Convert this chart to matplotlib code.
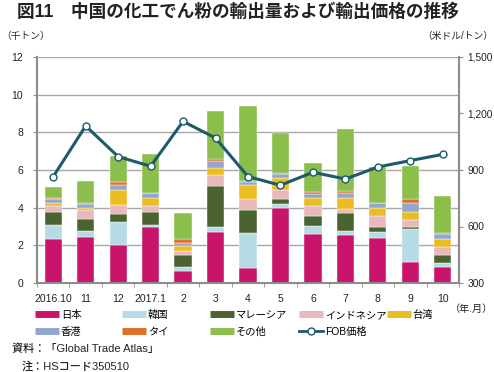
import numpy as np
import matplotlib
matplotlib.use('Agg')
import matplotlib.pyplot as plt
from matplotlib.lines import Line2D
from matplotlib.ticker import FuncFormatter, FixedLocator

plt.rcParams['font.family'] = ['Liberation Sans', 'Noto Sans CJK JP', 'DejaVu Sans']

# Data (thousand tons / USD per ton)
months = ['2016.10', '11', '12', '2017.1', '2', '3', '4', '5', '6', '7', '8', '9', '10']
japan = [2.34, 2.42, 2.02, 2.97, 0.65, 2.69, 0.81, 4.00, 2.60, 2.53, 2.41, 1.12, 0.87]
korea = [0.72, 0.32, 1.22, 0.13, 0.18, 0.28, 1.86, 0.18, 0.43, 0.25, 0.30, 1.76, 0.21]
malaysia = [0.69, 0.66, 0.44, 0.67, 0.64, 2.16, 1.21, 0.28, 0.51, 0.92, 0.28, 0.08, 0.39]
indonesia = [0.32, 0.46, 0.48, 0.34, 0.25, 0.60, 0.58, 0.50, 0.57, 0.21, 0.59, 0.40, 0.46]
taiwan = [0.18, 0.12, 0.76, 0.39, 0.23, 0.39, 0.74, 0.62, 0.42, 0.59, 0.42, 0.43, 0.42]
hongkong = [0.21, 0.23, 0.27, 0.26, 0.19, 0.38, 0.16, 0.21, 0.21, 0.26, 0.23, 0.46, 0.23]
thai = [0.05, 0.06, 0.17, 0.02, 0.20, 0.10, 0.06, 0.07, 0.07, 0.12, 0.04, 0.19, 0.09]
others = [0.57, 1.13, 1.38, 2.09, 1.38, 2.55, 4.00, 2.12, 1.58, 3.30, 1.87, 1.75, 1.97]
fob = [865, 1134, 971, 920, 1158, 1070, 865, 819, 888, 852, 916, 950, 983]

series = [
    ('日本', japan, '#C8156B'),
    ('韓国', korea, '#B7DBE5'),
    ('マレーシア', malaysia, '#4B6331'),
    ('インドネシア', indonesia, '#E8B8BA'),
    ('台湾', taiwan, '#EBBD22'),
    ('香港', hongkong, '#93A5D1'),
    ('タイ', thai, '#E0702A'),
    ('その他', others, '#8CBE4C'),
]
line_color = '#1D5A6C'
grey = '#8C8C8C'

fig = plt.figure(figsize=(4.94, 3.72), dpi=100)
ax = fig.add_axes([37 / 494, 1 - 283 / 372, 422 / 494, 226 / 372])
x = np.arange(len(months))

# stacked bars
bottom = np.zeros(len(months))
for name, vals, col in series:
    ax.bar(x, vals, 0.53, bottom=bottom, color=col, edgecolor='white', linewidth=0.3, zorder=2)
    bottom += np.array(vals)

ax.set_xlim(-0.5, len(months) - 0.5)
ax.set_ylim(0, 12)
ax.set_yticks(range(0, 13, 2))
ax.grid(axis='y', color='#A6A6A6', linewidth=1.0)
ax.set_axisbelow(True)
ax.set_xticks(x)
ax.set_xticklabels(months)
ax.xaxis.set_minor_locator(FixedLocator(np.arange(-0.5, len(months), 1)))
ax.tick_params(axis='x', which='major', length=0, pad=8, labelsize=7.5, colors='#222222')
ax.tick_params(axis='x', which='minor', length=3, color=grey)
ax.tick_params(axis='y', length=3, color=grey, labelsize=7.5, labelcolor='#222222', pad=7)
for s in ['top', 'right']:
    ax.spines[s].set_visible(False)
for s in ['left', 'bottom']:
    ax.spines[s].set_color(grey)
    ax.spines[s].set_linewidth(1.5)

# FOB price line on the right axis
ax2 = ax.twinx()
ax2.plot(x, fob, color=line_color, linewidth=2.2, marker='o', markersize=5,
         markerfacecolor='white', markeredgecolor=line_color, markeredgewidth=1.0, zorder=5)
ax2.set_ylim(300, 1500)
ax2.set_yticks([300, 600, 900, 1200, 1500])
ax2.yaxis.set_major_formatter(FuncFormatter(lambda v, p: f'{int(v):,}'))
ax2.tick_params(axis='y', length=3, color=grey, labelsize=7.3, labelcolor='#222222', pad=3)
for s in ['top', 'left', 'bottom']:
    ax2.spines[s].set_visible(False)
ax2.spines['right'].set_color(grey)
ax2.spines['right'].set_linewidth(1.5)

# texts
fig.text(17 / 494, 1 - 12 / 372, '図11　中国の化工でん粉の輸出量および輸出価格の推移',
         fontsize=12.7, fontweight='bold', va='center', ha='left', color='#222222')
fig.text(1 / 494, 1 - 36 / 372, '（千トン）', fontsize=7, va='center', ha='left', color='#222222')
fig.text(493 / 494, 1 - 36 / 372, '（米ドル/トン）', fontsize=7, va='center', ha='right', color='#222222')
fig.text(493 / 494, 1 - 309 / 372, '（年.月）', fontsize=7.3, va='center', ha='right', color='#222222')
fig.text(12 / 494, 1 - 349 / 372, '資料：「Global Trade Atlas」', fontsize=8, va='center', ha='left',
         color='#222222', fontweight='medium')
fig.text(22 / 494, 1 - 366 / 372, '注：HSコード350510', fontsize=8, va='center', ha='left',
         color='#222222', fontweight='medium')

# legend, laid out in evenly spaced columns
handles = [Line2D([], [], color=col, linewidth=5, solid_capstyle='butt') for _, _, col in series]
labels = [name for name, _, _ in series]
handles.append(Line2D([], [], color=line_color, linewidth=2, marker='o', markersize=5,
                      markerfacecolor='white', markeredgecolor=line_color))
labels.append('FOB価格')
order = [[0, 5], [1, 6], [2, 7], [3, 8], [4]]
col_x = [35, 122, 210, 299, 387]
for cx, idx in zip(col_x, order):
    fig.legend([handles[i] for i in idx], [labels[i] for i in idx], loc='upper left',
               bbox_to_anchor=(cx / 494, 1 - 310 / 372), frameon=False, fontsize=7.4,
               handlelength=2.3, handletextpad=0.2, borderpad=0, borderaxespad=0,
               labelspacing=0.65)

fig.savefig('out.png', dpi=100)
